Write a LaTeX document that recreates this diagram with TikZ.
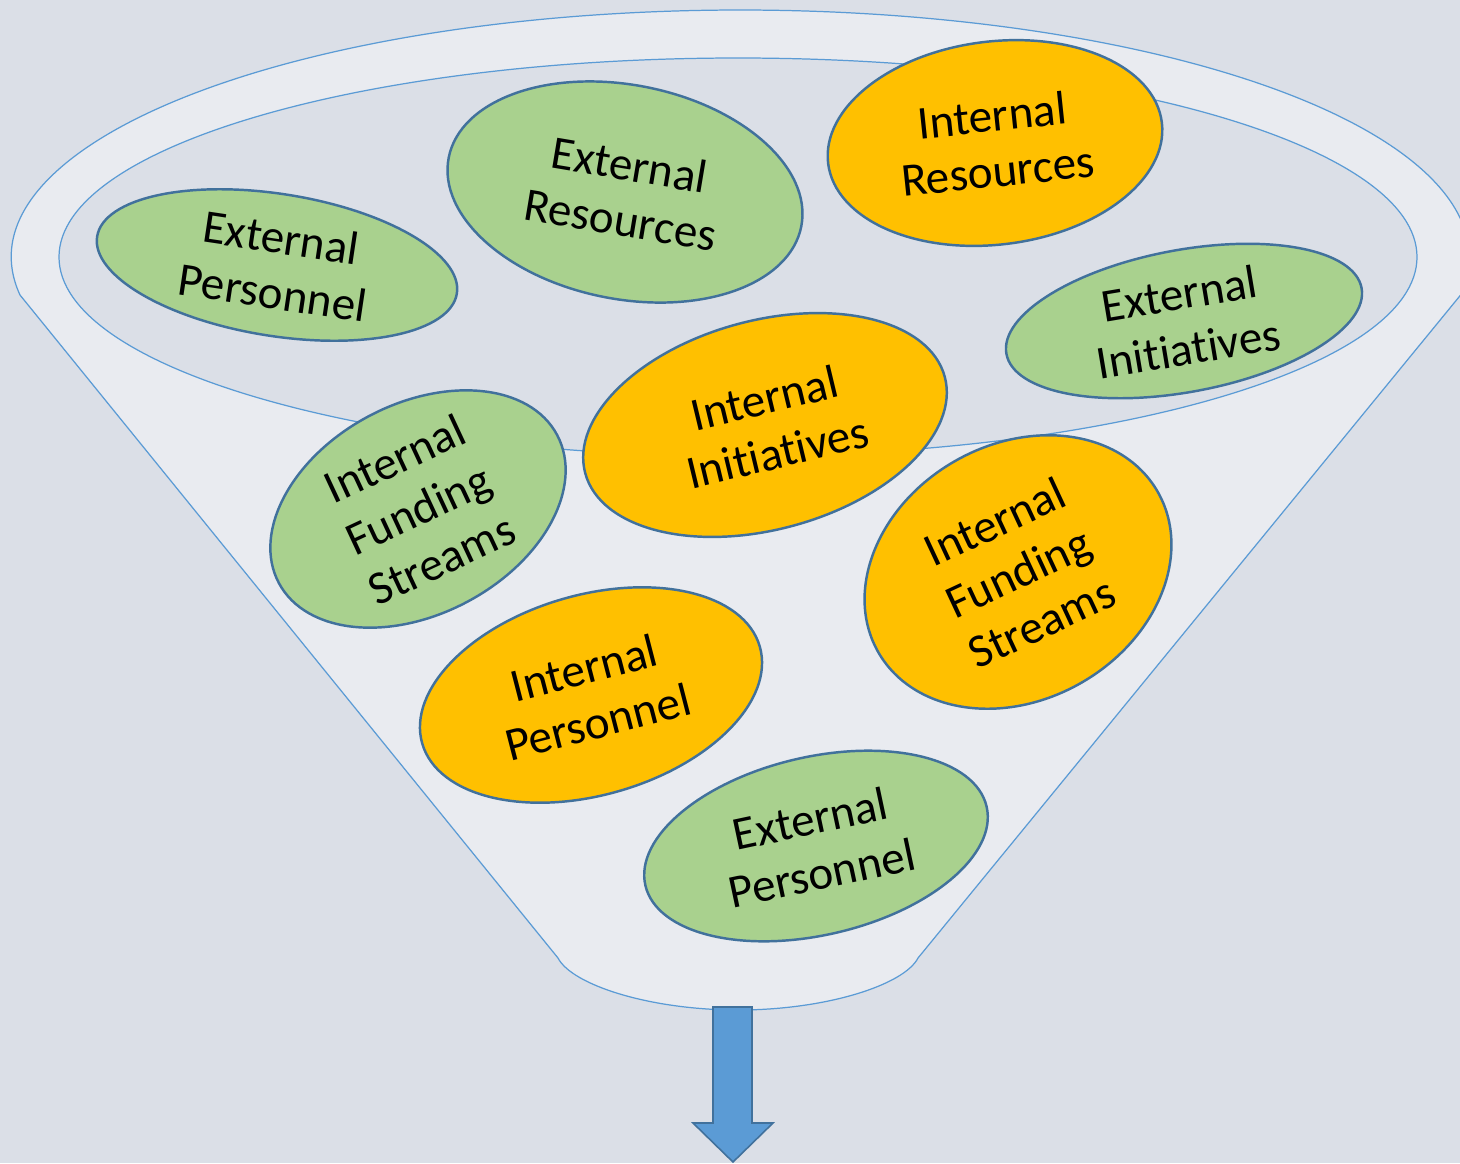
\documentclass[tikz,border=0pt]{standalone}
\usepackage{fontspec}
\setmainfont{Carlito}[Ligatures=NoCommon]
\usetikzlibrary{shapes.geometric}

\definecolor{paper}{HTML}{DBDFE7}
\definecolor{wall}{HTML}{E9EBF0}
\definecolor{funnel}{HTML}{5B9BD5}
\definecolor{podedge}{HTML}{41719C}
\definecolor{leaf}{HTML}{A9D18E}
\definecolor{amber}{HTML}{FFC000}

\tikzset{
  pod/.style={ellipse, draw=podedge, line width=0.7pt, inner sep=0pt},
  podtext/.style={align=center, inner sep=1pt, font=\fontsize{13.4pt}{15.8pt}\selectfont},
}

\begin{document}
\begin{tikzpicture}[x=0.01cm, y=-0.01cm]
  \useasboundingbox[fill=paper] (0,0) rectangle (1460,1163);

  % funnel body: rim on top, straight sides, rounded spout
  \coordinate (rimL) at (20,295);
  \coordinate (spoutL) at (558,958);
  \coordinate (spoutR) at (918,958);
  \coordinate (spoutB) at (738,1010);
  \filldraw[fill=wall, draw=funnel, line width=0.35pt]
    (rimL) arc[start angle=171.15, end angle=368.85, x radius=729, y radius=247]
    -- (spoutR) .. controls (904,985) and (826,1010) .. (spoutB)
    .. controls (650,1010) and (572,985) .. (spoutL) -- cycle;

  % opening of the funnel
  \filldraw[fill=paper, draw=funnel, line width=0.35pt]
    (738,257) ellipse [x radius=679, y radius=199];

  % outflow arrow
  \filldraw[fill=funnel, draw=podedge, line width=0.45pt]
    (713,1007) -- (752,1007) -- (752,1123) -- (773,1123) -- (733,1162)
    -- (693,1123) -- (713,1123) -- cycle;

  % the pods in the funnel
  \node[pod, fill=leaf, minimum width=3.64cm, minimum height=1.42cm, rotate=-9] (extPersTop) at (277,265) {};
  \node[podtext, rotate=-8.5] (extPersTopTxt) at (extPersTop) {External\\Personnel};

  \node[pod, fill=leaf, minimum width=3.59cm, minimum height=2.14cm, rotate=-11] (extRes) at (625,192) {};
  \node[podtext, rotate=-9.5] (extResTxt) at (extRes) {External\\Resources};

  \node[pod, fill=amber, minimum width=3.36cm, minimum height=2.03cm, rotate=7] (intRes) at (995,143) {};
  \node[podtext, rotate=6] (intResTxt) at (intRes) {Internal\\Resources};

  \node[pod, fill=leaf, minimum width=3.61cm, minimum height=1.42cm, rotate=10.5] (extInit) at (1184,321) {};
  \node[podtext, rotate=9.5] (extInitTxt) at (extInit) {External\\Initiatives};

  \node[pod, fill=amber, minimum width=3.72cm, minimum height=2.09cm, rotate=15] (intInit) at (765,425) {};
  \node[podtext, rotate=13.5] (intInitTxt) at ([xshift=0.06cm]intInit) {Internal\\Initiatives};

  \node[pod, fill=leaf, minimum width=3.15cm, minimum height=2.10cm, rotate=28] (intFundL) at (418,509) {};
  \node[podtext, rotate=25] (intFundLTxt) at (intFundL) {Internal\\Funding\\Streams};

  \node[pod, fill=amber, minimum width=3.22cm, minimum height=2.55cm, rotate=30] (intFundR) at (1018,572) {};
  \node[podtext, rotate=25] (intFundRTxt) at (intFundR) {Internal\\Funding\\Streams};

  \node[pod, fill=amber, minimum width=3.51cm, minimum height=2.00cm, rotate=16] (intPers) at (591,695) {};
  \node[podtext, rotate=14.5] (intPersTxt) at (intPers) {Internal\\Personnel};

  \node[pod, fill=leaf, minimum width=3.50cm, minimum height=1.78cm, rotate=13] (extPersLow) at (816,846) {};
  \node[podtext, rotate=12] (extPersLowTxt) at (extPersLow) {External\\Personnel};
\end{tikzpicture}
\end{document}
